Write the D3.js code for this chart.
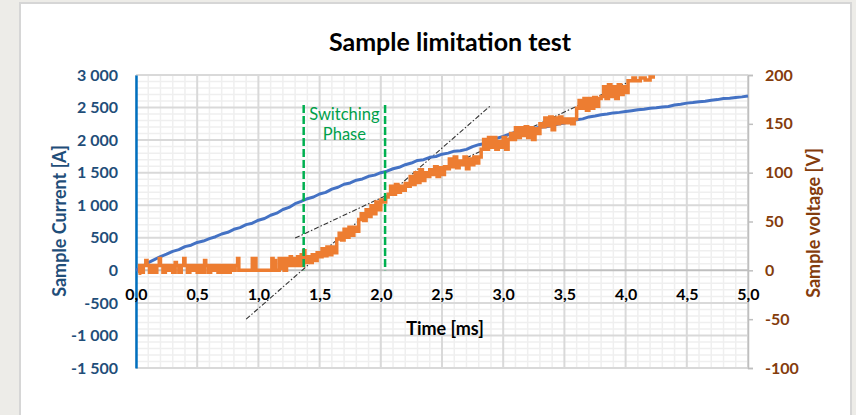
<!DOCTYPE html>
<html><head><meta charset="utf-8">
<script src="https://cdn.jsdelivr.net/npm/d3@7"></script>
<style>
html,body{margin:0;padding:0;background:#edece8;}
svg{display:block;font-family:Lato,"Open Sans",sans-serif;}
</style></head><body>
<svg id="chart" width="856" height="415"></svg>
<script>
// ---- data ----
const title = "Sample limitation test";
const xTicks = [0, 0.5, 1, 1.5, 2, 2.5, 3, 3.5, 4, 4.5, 5];
const leftTicks = [-1500, -1000, -500, 0, 500, 1000, 1500, 2000, 2500, 3000];
const rightTicks = [-100, -50, 0, 50, 100, 150, 200];
// Sample current [A] vs time [ms]
const currentData = [
  [0.00,0],[0.05,55],[0.10,118],[0.15,165],[0.20,212],[0.25,248],[0.30,292],[0.35,318],[0.40,364],[0.45,386],
  [0.50,428],[0.55,450],[0.60,486],[0.65,516],[0.70,558],[0.75,584],[0.80,630],[0.85,656],[0.90,702],[0.95,724],
  [1.00,770],[1.05,796],[1.10,846],[1.15,878],[1.20,934],[1.25,966],[1.30,1024],[1.35,1060],[1.40,1100],[1.45,1126],
  [1.50,1172],[1.55,1198],[1.60,1248],[1.65,1276],[1.70,1322],[1.75,1342],[1.80,1384],[1.85,1404],[1.90,1444],[1.95,1462],
  [2.00,1500],[2.05,1522],[2.10,1560],[2.15,1582],[2.20,1622],[2.25,1648],[2.30,1688],[2.35,1700],[2.40,1736],[2.45,1748],
  [2.50,1784],[2.55,1800],[2.60,1830],[2.65,1836],[2.70,1858],[2.75,1900],[2.80,1930],[2.85,1948],[2.90,1985],[2.95,2030],
  [3.00,2056],[3.05,2090],[3.10,2120],[3.15,2136],[3.20,2168],[3.25,2180],[3.30,2196],[3.35,2204],[3.40,2222],[3.45,2248],
  [3.50,2262],[3.55,2292],[3.60,2312],[3.65,2326],[3.70,2356],[3.75,2370],[3.80,2390],[3.85,2400],[3.90,2418],[3.95,2426],
  [4.00,2438],[4.05,2452],[4.10,2466],[4.15,2474],[4.20,2490],[4.25,2496],[4.30,2508],[4.35,2516],[4.40,2540],[4.45,2552],
  [4.50,2568],[4.55,2576],[4.60,2590],[4.65,2598],[4.70,2612],[4.75,2622],[4.80,2638],[4.85,2644],[4.90,2656],[4.95,2664],
  [5.00,2678]
];
// Sample voltage [V] vs time [ms]
const voltageData = [
  [0.02,-3],[0.03,5],[0.05,-2],[0.06,5],[0.08,10],[0.09,5],[0.11,-2],[0.13,5],[0.15,-2],[0.17,5],
  [0.19,12],[0.20,5],[0.22,-2],[0.24,5],[0.26,0],[0.28,5],[0.30,-2],[0.32,8],[0.33,5],[0.35,-2],
  [0.37,5],[0.39,12],[0.40,5],[0.42,-2],[0.44,5],[0.46,0],[0.48,5],[0.50,-2],[0.52,5],[0.54,-2],
  [0.56,10],[0.57,5],[0.59,-2],[0.61,5],[0.63,0],[0.65,5],[0.67,-2],[0.69,5],[0.71,-2],[0.73,5],
  [0.75,-2],[0.77,5],[0.79,0],[0.81,5],[0.83,12],[0.84,0],[0.88,0],[0.91,0],[0.95,12],[0.96,0],
  [0.97,12],[0.98,0],[1.03,0],[1.07,0],[1.11,12],[1.12,0],[1.13,10],[1.14,0],[1.17,12],[1.18,2],
  [1.20,12],[1.21,0],[1.23,12],[1.24,5],[1.26,14],[1.27,5],[1.29,12],[1.30,5],[1.32,14],[1.33,5],
  [1.35,16],[1.36,5],[1.37,20],[1.38,8],[1.40,14],[1.42,8],[1.44,16],[1.46,10],[1.48,18],[1.50,14],
  [1.52,22],[1.54,15],[1.56,24],[1.58,16],[1.60,24],[1.62,18],[1.64,32],[1.66,38],[1.68,31],[1.70,42],
  [1.72,34],[1.74,44],[1.76,36],[1.78,44],[1.80,40],[1.82,52],[1.84,58],[1.86,51],[1.88,62],[1.90,55],
  [1.92,66],[1.94,58],[1.96,70],[1.98,62],[2.00,72],[2.02,70],[2.04,75],[2.06,78],[2.08,86],[2.10,78],
  [2.12,88],[2.14,80],[2.16,86],[2.18,82],[2.20,89],[2.22,86],[2.24,96],[2.26,88],[2.28,100],[2.30,90],
  [2.32,103],[2.34,92],[2.36,100],[2.38,96],[2.40,103],[2.42,98],[2.44,106],[2.46,96],[2.48,105],[2.50,98],
  [2.52,106],[2.54,104],[2.56,114],[2.58,106],[2.60,116],[2.62,105],[2.64,112],[2.66,108],[2.68,116],[2.70,104],
  [2.72,114],[2.74,108],[2.76,116],[2.78,110],[2.80,116],[2.82,124],[2.84,134],[2.86,124],[2.88,136],[2.90,126],
  [2.92,136],[2.94,124],[2.96,132],[2.98,126],[3.00,136],[3.02,124],[3.04,134],[3.06,140],[3.08,134],[3.10,146],
  [3.12,136],[3.14,146],[3.16,138],[3.18,147],[3.20,136],[3.22,146],[3.24,134],[3.26,145],[3.28,140],[3.30,150],
  [3.32,147],[3.34,156],[3.36,148],[3.38,157],[3.40,144],[3.42,156],[3.44,150],[3.46,157],[3.48,151],[3.50,155],
  [3.52,151],[3.54,155],[3.56,150],[3.58,155],[3.60,166],[3.62,174],[3.64,166],[3.66,176],[3.68,164],[3.70,176],
  [3.72,166],[3.74,177],[3.76,168],[3.78,176],[3.80,178],[3.82,188],[3.84,176],[3.86,190],[3.88,178],[3.90,188],
  [3.92,176],[3.94,190],[3.96,180],[3.98,188],[4.00,182],[4.02,194],[4.06,197],[4.08,194],[4.12,197],[4.16,195],
  [4.20,198],[4.24,198]
];
// annotations
const switchTimes = [1.37, 2.035];
const switchTopA = 2540;
const switchLabel = ["Switching", "Phase"];
const tangent1 = [[0.90,-50],[2.90,169]];
const tangent2 = [[1.30,33],[4.01,192]];

// ---- layout ----
const svg = d3.select("#chart");
const L = 136, R = 748, T = 75, B = 368;
const x = d3.scaleLinear().domain([0,5]).range([L,R]);
const yA = d3.scaleLinear().domain([-1500,3000]).range([B,T]);
const yV = d3.scaleLinear().domain([-100,200]).range([B,T]);
const fmtX = d => d3.format(".1f")(d).replace(".", ",");
const fmtA = d => d3.format(",")(d).replace(/,/g, " ").replace("\u2212", "-");
const fmtV = d => String(d);
const FONT = "Lato, 'Open Sans', sans-serif";

// frame
svg.append("rect").attr("x",20).attr("y",3).attr("width",831).attr("height",420)
  .attr("fill","#ffffff").attr("stroke","#d6d6d6").attr("stroke-width",2);

// grid
const g = svg.append("g");
const minorX = d3.range(0, 51).map(i => i/10).filter(v => Math.abs(v*2 - Math.round(v*2)) > 1e-6);
const minorY = d3.range(-15, 31).map(i => i*100).filter(v => v % 500 !== 0);
g.selectAll(".mx").data(minorX).join("line")
  .attr("x1", d=>x(d)).attr("x2", d=>x(d)).attr("y1", T).attr("y2", B)
  .attr("stroke","#efefef").attr("stroke-width",1.5);
g.selectAll(".my").data(minorY).join("line")
  .attr("x1", L).attr("x2", R).attr("y1", d=>yA(d)).attr("y2", d=>yA(d))
  .attr("stroke","#efefef").attr("stroke-width",1.5);
g.selectAll(".MX").data(xTicks).join("line")
  .attr("x1", d=>x(d)).attr("x2", d=>x(d)).attr("y1", T).attr("y2", B)
  .attr("stroke","#d9d9d9").attr("stroke-width",2);
g.selectAll(".MY").data(leftTicks.filter(d=>d!==0)).join("line")
  .attr("x1", L).attr("x2", R).attr("y1", d=>yA(d)).attr("y2", d=>yA(d))
  .attr("stroke","#d9d9d9").attr("stroke-width",2);
g.append("line").attr("x1",L).attr("x2",R).attr("y1",yA(0)).attr("y2",yA(0))
  .attr("stroke","#bfbfbf").attr("stroke-width",2);

// right axis
const rAx = svg.append("g").attr("transform",`translate(${R},0)`)
  .call(d3.axisRight(yV).tickValues(rightTicks).tickSize(5).tickPadding(12).tickFormat(fmtV));
rAx.select(".domain").attr("stroke","#bfbfbf").attr("stroke-width",1.5);
rAx.selectAll(".tick line").attr("stroke","#bfbfbf").attr("stroke-width",1.5);
rAx.selectAll(".tick text").attr("fill","#843c0c").attr("font-size",16).attr("font-weight","bold")
  .attr("font-family",FONT);

// left axis
const lAx = svg.append("g").attr("transform",`translate(${L},0)`)
  .call(d3.axisLeft(yA).tickValues(leftTicks).tickSize(0).tickPadding(18).tickFormat(fmtA));
lAx.select(".domain").attr("stroke","#0070c0").attr("stroke-width",2.5);
lAx.selectAll(".tick text").attr("fill","#1f4e79").attr("font-size",16).attr("font-weight","bold")
  .attr("font-family",FONT);

// x labels at zero line
const xAx = svg.append("g").attr("transform",`translate(0,${yA(0)})`)
  .call(d3.axisBottom(x).tickValues(xTicks).tickSize(0).tickPadding(18).tickFormat(fmtX));
xAx.select(".domain").remove();
xAx.selectAll(".tick text").attr("fill","#000").attr("font-size",16).attr("font-weight","bold")
  .attr("font-family",FONT);

// tangent lines
const lineV = d3.line().x(d=>x(d[0])).y(d=>yV(d[1]));
[tangent1, tangent2].forEach(t => {
  svg.append("path").attr("d", lineV(t)).attr("fill","none")
    .attr("stroke","#333333").attr("stroke-width",1.1).attr("stroke-dasharray","5,2,1.5,2");
});

// series
const lineA = d3.line().x(d=>x(d[0])).y(d=>yA(d[1]));
svg.append("path").attr("d", lineA(currentData)).attr("fill","none")
  .attr("stroke","#4472c4").attr("stroke-width",3).attr("stroke-linejoin","round");
const lineStep = d3.line().x(d=>x(d[0])).y(d=>yV(d[1])).curve(d3.curveStepAfter);
svg.append("path").attr("d", lineStep(voltageData)).attr("fill","none")
  .attr("stroke","#ed7d31").attr("stroke-width",3.5);

// switching phase lines
svg.selectAll(".sw").data(switchTimes).join("line")
  .attr("x1", d=>x(d)).attr("x2", d=>x(d)).attr("y1", yA(switchTopA)).attr("y2", yA(0))
  .attr("stroke","#00b050").attr("stroke-width",2.5).attr("stroke-dasharray","8,3");
const midX = (x(switchTimes[0]) + x(switchTimes[1]))/2;
svg.append("text").attr("x", midX).attr("y", 120).attr("text-anchor","middle")
  .attr("fill","#00a04a").attr("font-size",16.5).text(switchLabel[0]);
svg.append("text").attr("x", midX).attr("y", 140).attr("text-anchor","middle")
  .attr("fill","#00a04a").attr("font-size",16.5).text(switchLabel[1]);

// titles
svg.append("text").attr("x", 450).attr("y", 51).attr("text-anchor","middle")
  .attr("font-size",25).attr("font-weight","bold").attr("fill","#000").text(title);
svg.append("text").attr("x", 445).attr("y", 335).attr("text-anchor","middle")
  .attr("font-size",18).attr("font-weight","bold").attr("fill","#000").text("Time [ms]");
svg.append("text").attr("transform","translate(66,221) rotate(-90)").attr("text-anchor","middle")
  .attr("font-size",18).attr("font-weight","bold").attr("fill","#1f4e79").text("Sample Current [A]");
svg.append("text").attr("transform","translate(820,223) rotate(-90)").attr("text-anchor","middle")
  .attr("font-size",18).attr("font-weight","bold").attr("fill","#843c0c").text("Sample voltage [V]");
</script>
</body></html>
